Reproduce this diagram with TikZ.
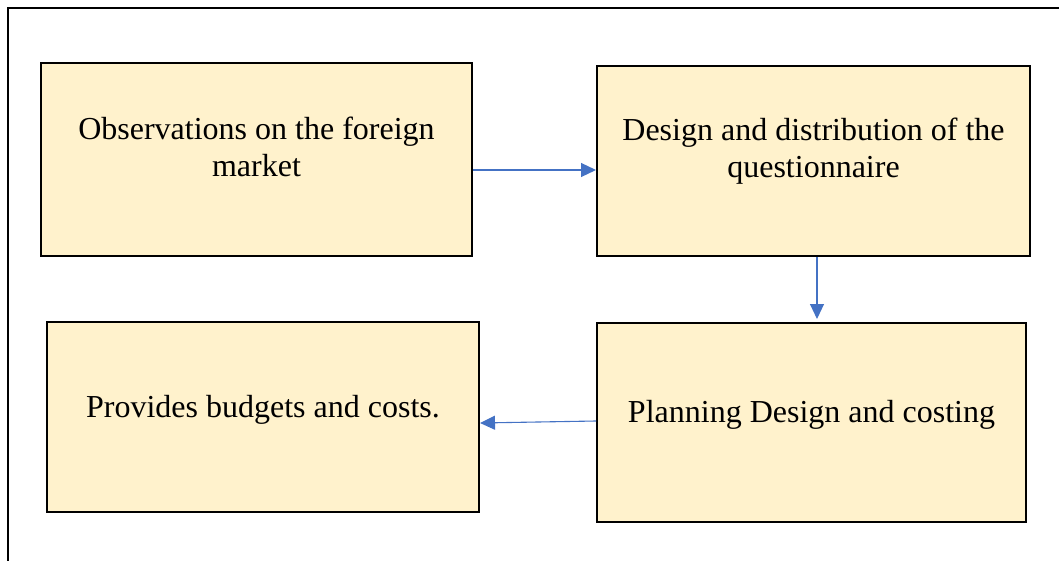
\documentclass[tikz,border=0pt]{standalone}
\usepackage{fontspec}
\setmainfont{Liberation Serif}
\usetikzlibrary{arrows.meta}
\definecolor{myellow}{HTML}{FFF2CC}
\definecolor{mblue}{HTML}{4472C4}

\begin{document}
\begin{tikzpicture}[x=1pt, y=-1pt,
    box/.style={draw, line width=2pt, fill=myellow, inner sep=0pt, align=center,
      font=\fontsize{32}{37}\selectfont, text height=12pt, text depth=12pt},
    twoline/.style={text height=46pt},
    flow/.style={mblue, line width=1.1pt, -{Triangle[length=15pt, width=14pt]}}]
    \useasboundingbox (0, 0) rectangle (1059, 561);
    \draw [line width=2pt] (8, 561) -- (8, 8) -- (1059, 8);

    \node [box, twoline, minimum width=431pt, minimum height=193pt] (obs) at (256.5, 159.5) {Observations on the foreign\\market};
    \node [box, twoline, minimum width=433pt, minimum height=190pt] (design) at (813.5, 161) {Design and distribution of the\\questionnaire};
    \node [box, minimum width=432pt, minimum height=190pt] (budget) at (263, 417) {Provides budgets and costs.};
    \node [box, minimum width=429pt, minimum height=199pt] (plan) at (811.5, 422.5) {Planning Design and costing};

    \draw [flow] ([yshift=-10.5pt]obs.east) -- ([yshift=-10.5pt]obs.east -| design.west);
    \draw [flow, shorten >=3pt] ([xshift=3.5pt]design.south) -- ([xshift=3.5pt]design.south |- plan.north);
    \draw [flow] ([yshift=1.5pt]plan.west) -- ([yshift=-6pt]budget.east); % slight slope, as drawn
\end{tikzpicture}
\end{document}
